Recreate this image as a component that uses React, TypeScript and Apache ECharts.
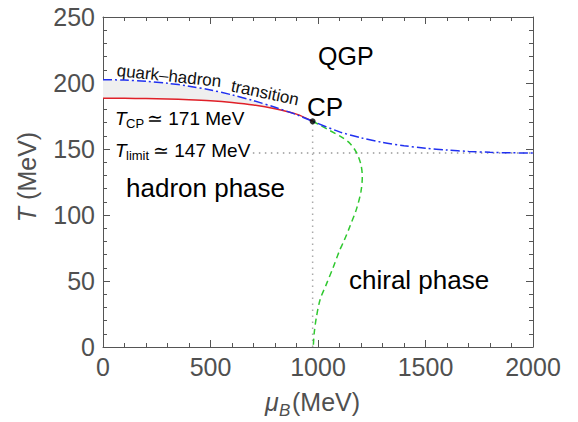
import React, { useEffect, useRef } from "react";
import * as echarts from "echarts";

// Quark–hadron transition (dash-dot, blue), upper boundary of band
const muUpper = [0, 100, 200, 300, 400, 500, 600, 700, 800, 900, 975];
const tTransition = [202.5, 202.2, 201.3, 199.8, 197.6, 194.7, 191, 186.6, 181.6, 176, 171];
// Red solid boundary (lower edge of band)
const tRed = [188.5, 188.4, 188.2, 187.9, 187.4, 186.6, 185.3, 183.4, 180.5, 176.4, 171];
// Continuation of transition beyond CP
const muCross = [975, 1100, 1200, 1300, 1400, 1500, 1600, 1700, 1800, 1900, 2000];
const tCross = [171, 163, 158.5, 155, 152.5, 150.6, 149.2, 148.2, 147.5, 147.1, 147];
// Chiral phase boundary (green dashed)
const muChiral = [975, 1010, 1055, 1110, 1150, 1180, 1200, 1206, 1200, 1180, 1150, 1120, 1100, 1070, 1040, 1010, 992, 982, 978];
const tChiral = [171, 168, 164, 159, 154, 147, 138, 129, 118, 105, 92, 80, 73, 60, 48, 36, 22, 10, 0];
// Critical point and limit temperature
const muCP = 975;
const tCP = 171;
const tLimit = 147;
const limitStartMu = 697;
const xTicks = { min: 0, max: 2000, interval: 500 };
const yTicks = { min: 0, max: 250, interval: 50 };

const FONT = "'Liberation Sans', Arial, sans-serif";
const AX = "#555";
const LAB = "#505050";

export default function App() {
  const ref = useRef<HTMLDivElement>(null);
  useEffect(() => {
    document.body.style.margin = "0";
    const chart = echarts.init(ref.current!, null, { renderer: "svg" });
    const zip = (xs: number[], ys: number[]) => xs.map((x, i) => [x, ys[i]]);
    const axisCommon = {
      type: "value" as const,
      axisLine: { show: true, onZero: false, lineStyle: { color: AX, width: 1 } },
      axisTick: { show: true, inside: true, length: 7, lineStyle: { color: AX } },
      minorTick: { show: true, splitNumber: 5, length: 4, lineStyle: { color: AX } },
      splitLine: { show: false },
    };
    const fmt = (v: number) => String(v);
    const option: any = {
      animation: false,
      grid: { left: 103, right: 45, top: 17, bottom: 75, containLabel: false },
      xAxis: [
        {
          ...axisCommon, ...xTicks, position: "bottom",
          axisLabel: { fontSize: 25, color: LAB, margin: 7, fontFamily: FONT, formatter: fmt },
        },
        {
          ...axisCommon, ...xTicks, position: "top",
          axisLabel: { show: false },
        },
      ],
      yAxis: [
        {
          ...axisCommon, ...yTicks, position: "left",
          axisLabel: { fontSize: 25, color: LAB, margin: 8, fontFamily: FONT, formatter: fmt },
        },
        {
          ...axisCommon, ...yTicks, position: "right",
          axisLabel: { show: false },
        },
      ],
      series: [
        {
          type: "custom",
          data: [[0, 0]],
          z: 1,
          clip: true,
          renderItem: (_p: any, api: any) => {
            const pts: number[][] = [];
            muUpper.forEach((m, i) => pts.push(api.coord([m, tTransition[i]])));
            for (let i = muUpper.length - 1; i >= 0; i--) pts.push(api.coord([muUpper[i], tRed[i]]));
            return { type: "polygon", shape: { points: pts }, style: { fill: "#efefef", stroke: "none" } };
          },
        },
        {
          type: "line", data: zip([limitStartMu, xTicks.max], [tLimit, tLimit]), symbol: "none", z: 2,
          lineStyle: { color: "#999", width: 1.5, type: [1.5, 4.5] },
        },
        {
          type: "line", data: zip([muCP, muCP], [0, tCP]), symbol: "none", z: 2,
          lineStyle: { color: "#aaa", width: 1.5, type: [1.5, 4.5] },
        },
        {
          type: "line", data: zip(muUpper, tRed), symbol: "none", smooth: 0.3, z: 3,
          lineStyle: { color: "#e02028", width: 1.5 },
        },
        {
          type: "line", data: zip(muUpper, tTransition).concat(zip(muCross, tCross).slice(1)), symbol: "none", smooth: 0.3, z: 4,
          lineStyle: { color: "#2030f0", width: 1.5, type: [9, 3, 2, 3] },
        },
        {
          type: "line", data: zip(muChiral, tChiral), symbol: "none", smooth: 0.3, z: 3,
          lineStyle: { color: "#30c830", width: 1.5, type: [6, 4] },
        },
        {
          type: "scatter", data: [[muCP, tCP]], symbolSize: 6, z: 5,
          itemStyle: { color: "#000" },
        },
      ],
      graphic: [
        { type: "text", left: 318, top: 43, style: { text: "QGP", font: `25px ${FONT}`, fill: "#000" } },
        { type: "text", left: 307, top: 94, style: { text: "CP", font: `26px ${FONT}`, fill: "#000" } },
        { type: "text", left: 126, top: 175, style: { text: "hadron phase", font: `26px ${FONT}`, fill: "#000" } },
        { type: "text", left: 349, top: 267, style: { text: "chiral phase", font: `26px ${FONT}`, fill: "#000" } },
        { type: "text", x: 169, y: 76, rotation: -0.105, style: { text: "quark–hadron", font: `17px ${FONT}`, fill: "#111", align: "center", verticalAlign: "middle" } },
        { type: "text", x: 265, y: 93, rotation: -0.21, style: { text: "transition", font: `17px ${FONT}`, fill: "#111", align: "center", verticalAlign: "middle" } },
        { type: "text", x: 115, y: 109, style: { text: "T", font: `italic 19px ${FONT}`, fill: "#000" } },
        { type: "text", x: 126, y: 117, style: { text: "CP", font: `13px ${FONT}`, fill: "#000" } },
        { type: "text", x: 147, y: 109, style: { text: "≃ 171 MeV", font: `19px ${FONT}`, fill: "#000" } },
        { type: "text", x: 115, y: 141, style: { text: "T", font: `italic 19px ${FONT}`, fill: "#000" } },
        { type: "text", x: 126, y: 149, style: { text: "limit", font: `13px ${FONT}`, fill: "#000" } },
        { type: "text", x: 153, y: 141, style: { text: "≃ 147 MeV", font: `19px ${FONT}`, fill: "#000" } },
        {
          type: "text", x: 27, y: 177, rotation: Math.PI / 2,
          style: {
            text: "{i|T} (MeV)", font: `25px ${FONT}`, fill: LAB, align: "center", verticalAlign: "middle",
            rich: { i: { fontStyle: "italic", fontSize: 25, fontFamily: FONT, fill: LAB } },
          },
        },
        { type: "text", x: 265, y: 389, style: { text: "μ", font: `italic 25px ${FONT}`, fill: LAB } },
        { type: "text", x: 279, y: 402, style: { text: "B", font: `italic 17px ${FONT}`, fill: LAB } },
        { type: "text", x: 292, y: 389, style: { text: "(MeV)", font: `25px ${FONT}`, fill: LAB } },
      ],
    };
    chart.setOption(option);
    return () => chart.dispose();
  }, []);
  return <div ref={ref} style={{ width: 578, height: 422 }} />;
}
